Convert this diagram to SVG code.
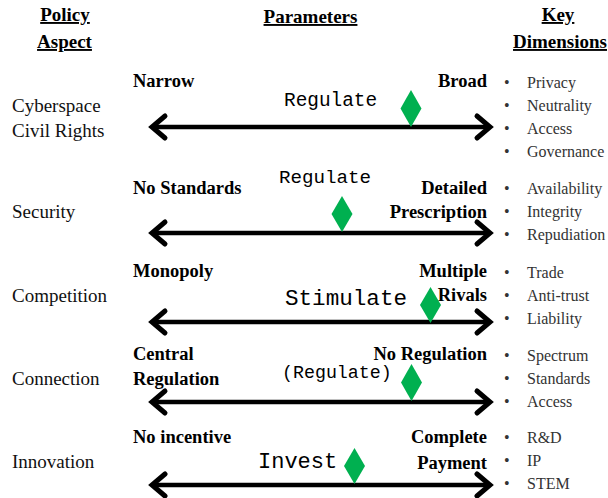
<svg xmlns="http://www.w3.org/2000/svg" width="608" height="498" viewBox="0 0 608 498">
<style>
.hdr{font-family:"Liberation Serif",serif;font-weight:bold;font-size:19px;fill:#000;text-decoration:underline;text-anchor:middle}
.asp{font-family:"Liberation Serif",serif;font-size:19px;fill:#111}
.end{font-family:"Liberation Serif",serif;font-weight:bold;font-size:18.5px;fill:#000}
.r{text-anchor:end}
.mono{font-family:"Liberation Mono","Courier New",monospace;fill:#000}
.dim{font-family:"Liberation Serif",serif;font-size:16px;fill:#333}
.bul{font-family:"Liberation Serif",serif;font-size:16px;fill:#333}
.axis{stroke:#000;stroke-width:4.5;fill:none;marker-start:url(#head);marker-end:url(#head)}
.dia{fill:#00B050}
</style>
<defs>
<marker id="head" markerUnits="userSpaceOnUse" viewBox="-20 -16 24 32" refX="0" refY="0" markerWidth="24" markerHeight="32" orient="auto-start-reverse">
<path d="M-13,-11 L0,0 L-13,11" fill="none" stroke="#000" stroke-width="5" stroke-linecap="round" stroke-linejoin="miter"/>
</marker>
</defs>

<g id="headers">
<text class="hdr" x="65" y="21">Policy</text>
<text class="hdr" x="64.5" y="48">Aspect</text>
<text class="hdr" x="310.5" y="23">Parameters</text>
<text class="hdr" x="558" y="21">Key</text>
<text class="hdr" x="560" y="48">Dimensions</text>
</g>

<g id="connectors">
<line class="axis" x1="152" y1="127" x2="490" y2="127"/>
<line class="axis" x1="152" y1="233" x2="490" y2="233"/>
<line class="axis" x1="152" y1="322" x2="490" y2="322"/>
<line class="axis" x1="152" y1="402" x2="490" y2="402"/>
<line class="axis" x1="152" y1="485" x2="490" y2="485"/>
</g>

<g id="row-cyberspace">
<text class="asp" x="12" y="112">Cyberspace</text>
<text class="asp" x="12" y="137">Civil Rights</text>
<text class="end" x="133" y="87">Narrow</text>
<text class="end r" x="487" y="87">Broad</text>
<text class="mono" x="284" y="106" font-size="19.4">Regulate</text>
<polygon class="dia" points="411,90 421.5,108.5 411,127 400.5,108.5"/>
<g class="dim"><text x="527" y="88">Privacy</text><text x="527" y="111">Neutrality</text><text x="527" y="134">Access</text><text x="527" y="157">Governance</text></g>
<g class="bul"><text x="504" y="88">•</text><text x="504" y="111">•</text><text x="504" y="134">•</text><text x="504" y="157">•</text></g>
</g>

<g id="row-security">
<text class="asp" x="12" y="218">Security</text>
<text class="end" x="133" y="194">No Standards</text>
<text class="end r" x="487" y="194">Detailed</text>
<text class="end r" x="487" y="218">Prescription</text>
<text class="mono" x="279" y="183" font-size="19.2">Regulate</text>
<polygon class="dia" points="342,196 352.5,214 342,232 331.5,214"/>
<g class="dim"><text x="527" y="194">Availability</text><text x="527" y="217">Integrity</text><text x="527" y="240">Repudiation</text></g>
<g class="bul"><text x="504" y="194">•</text><text x="504" y="217">•</text><text x="504" y="240">•</text></g>
</g>

<g id="row-competition">
<text class="asp" x="12" y="302">Competition</text>
<text class="end" x="133" y="277">Monopoly</text>
<text class="end r" x="487" y="277">Multiple</text>
<text class="end r" x="487" y="301">Rivals</text>
<text class="mono" x="285" y="305" font-size="22.6">Stimulate</text>
<polygon class="dia" points="430.5,287 441,305 430.5,323 420,305"/>
<g class="dim"><text x="527" y="278">Trade</text><text x="527" y="301">Anti-trust</text><text x="527" y="324">Liability</text></g>
<g class="bul"><text x="504" y="278">•</text><text x="504" y="301">•</text><text x="504" y="324">•</text></g>
</g>

<g id="row-connection">
<text class="asp" x="12" y="385">Connection</text>
<text class="end" x="133" y="360">Central</text>
<text class="end" x="133" y="385">Regulation</text>
<text class="end r" x="487" y="360">No Regulation</text>
<text class="mono" x="282" y="378" font-size="18.3">(Regulate)</text>
<polygon class="dia" points="411.5,364 422,382.5 411.5,401 401,382.5"/>
<g class="dim"><text x="527" y="361">Spectrum</text><text x="527" y="384">Standards</text><text x="527" y="407">Access</text></g>
<g class="bul"><text x="504" y="361">•</text><text x="504" y="384">•</text><text x="504" y="407">•</text></g>
</g>

<g id="row-innovation">
<text class="asp" x="12" y="468">Innovation</text>
<text class="end" x="133" y="443">No incentive</text>
<text class="end r" x="487" y="443">Complete</text>
<text class="end r" x="487" y="469">Payment</text>
<text class="mono" x="258" y="468" font-size="22">Invest</text>
<polygon class="dia" points="354.5,448 365,466 354.5,484 344,466"/>
<g class="dim"><text x="527" y="443">R&amp;D</text><text x="527" y="466">IP</text><text x="527" y="489">STEM</text></g>
<g class="bul"><text x="504" y="443">•</text><text x="504" y="466">•</text><text x="504" y="489">•</text></g>
</g>
</svg>
